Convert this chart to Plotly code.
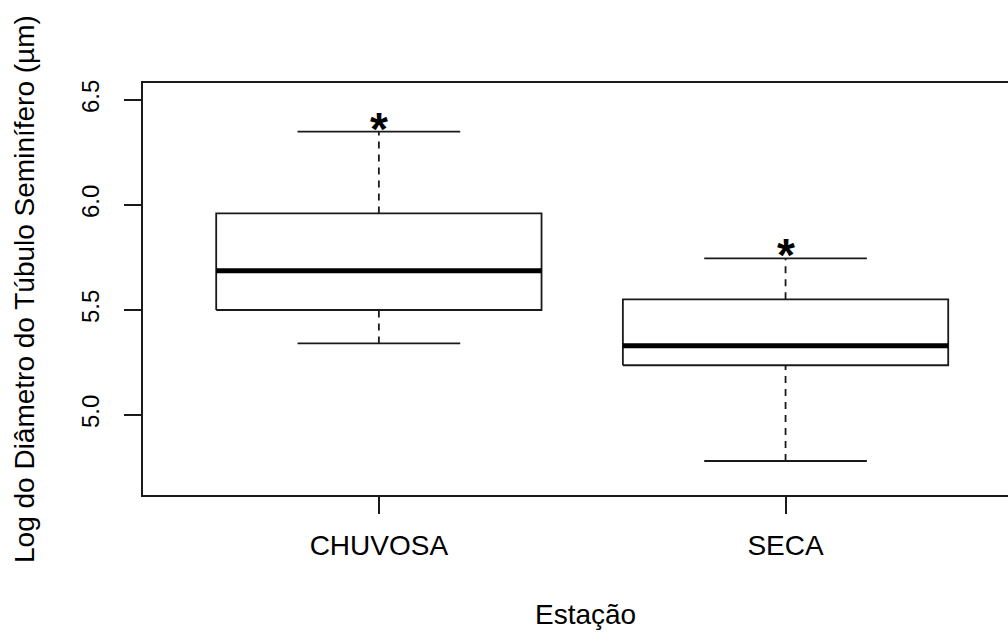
import plotly.graph_objects as go

categories = ["CHUVOSA", "SECA"]
lower_whisker = [5.341, 4.781]
q1 = [5.500, 5.237]
median = [5.687, 5.330]
q3 = [5.960, 5.551]
upper_whisker = [6.349, 5.746]
y_ticks = [5.0, 5.5, 6.0, 6.5]
y_tick_labels = ["5.0", "5.5", "6.0", "6.5"]

positions = [i + 1 for i in range(len(categories))]
box_half = 0.4
cap_half = 0.2
line_col = "#1a1a1a"
lw = 1.8

fig = go.Figure()

for p, lo, a, m, b, hi in zip(positions, lower_whisker, q1, median, q3, upper_whisker):
    # dashed whiskers
    fig.add_trace(go.Scatter(x=[p, p], y=[b, hi], mode="lines",
                             line=dict(color=line_col, width=lw, dash="7px,6px"),
                             hoverinfo="skip", showlegend=False))
    fig.add_trace(go.Scatter(x=[p, p], y=[lo, a], mode="lines",
                             line=dict(color=line_col, width=lw, dash="7px,6px"),
                             hoverinfo="skip", showlegend=False))
    # caps
    for v in (lo, hi):
        fig.add_trace(go.Scatter(x=[p - cap_half, p + cap_half], y=[v, v], mode="lines",
                                 line=dict(color=line_col, width=lw),
                                 hoverinfo="skip", showlegend=False))
    # box
    fig.add_trace(go.Scatter(x=[p - box_half, p + box_half, p + box_half, p - box_half, p - box_half],
                             y=[a, a, b, b, a], mode="lines", fill="toself",
                             fillcolor="white", line=dict(color=line_col, width=lw),
                             hoverinfo="skip", showlegend=False))
    # median
    fig.add_trace(go.Scatter(x=[p - box_half, p + box_half], y=[m, m], mode="lines",
                             line=dict(color="black", width=5),
                             hoverinfo="skip", showlegend=False))

annotations = []
for p, hi in zip(positions, upper_whisker):
    annotations.append(dict(x=p, y=hi, xref="x", yref="y", text="<b>*</b>", showarrow=False,
                            font=dict(family="Liberation Sans", size=46, color="black"),
                            yanchor="middle", yshift=3))

annotations.append(dict(x=(585 - 143) / 865, y=0, xref="paper", yref="paper", text="Estação",
                        showarrow=False, font=dict(family="Liberation Sans", size=28, color="black"),
                        xanchor="center", yanchor="middle", yshift=-119))
annotations.append(dict(x=0, y=0.5, xref="paper", yref="paper",
                        text="Log do Diâmetro do Túbulo Seminífero (µm)", textangle=-90,
                        showarrow=False, font=dict(family="Liberation Sans", size=28, color="black"),
                        xanchor="center", yanchor="middle", xshift=-(143 - 24)))

fig.update_layout(
    width=1008, height=632,
    margin=dict(l=143, r=0, t=83, b=137),
    paper_bgcolor="white", plot_bgcolor="white",
    annotations=annotations,
    xaxis=dict(range=[0.42, 2.547], tickvals=positions, ticktext=categories,
               showgrid=False, zeroline=False, showline=True, mirror=True,
               linecolor=line_col, linewidth=lw, ticks="outside", ticklen=17,
               tickwidth=lw, tickcolor=line_col, ticklabelstandoff=7,
               tickfont=dict(family="Liberation Sans", size=28, color="black")),
    yaxis=dict(range=[4.619, 6.581], tickvals=y_ticks, ticktext=y_tick_labels,
               showgrid=False, zeroline=False, showline=True, mirror=False,
               linecolor=line_col, linewidth=lw, ticks="outside", ticklen=17,
               tickwidth=lw, tickcolor=line_col, tickangle=-90, ticklabelstandoff=16,
               tickfont=dict(family="Liberation Sans", size=24, color="black")),
)

fig.write_html("out.html")
